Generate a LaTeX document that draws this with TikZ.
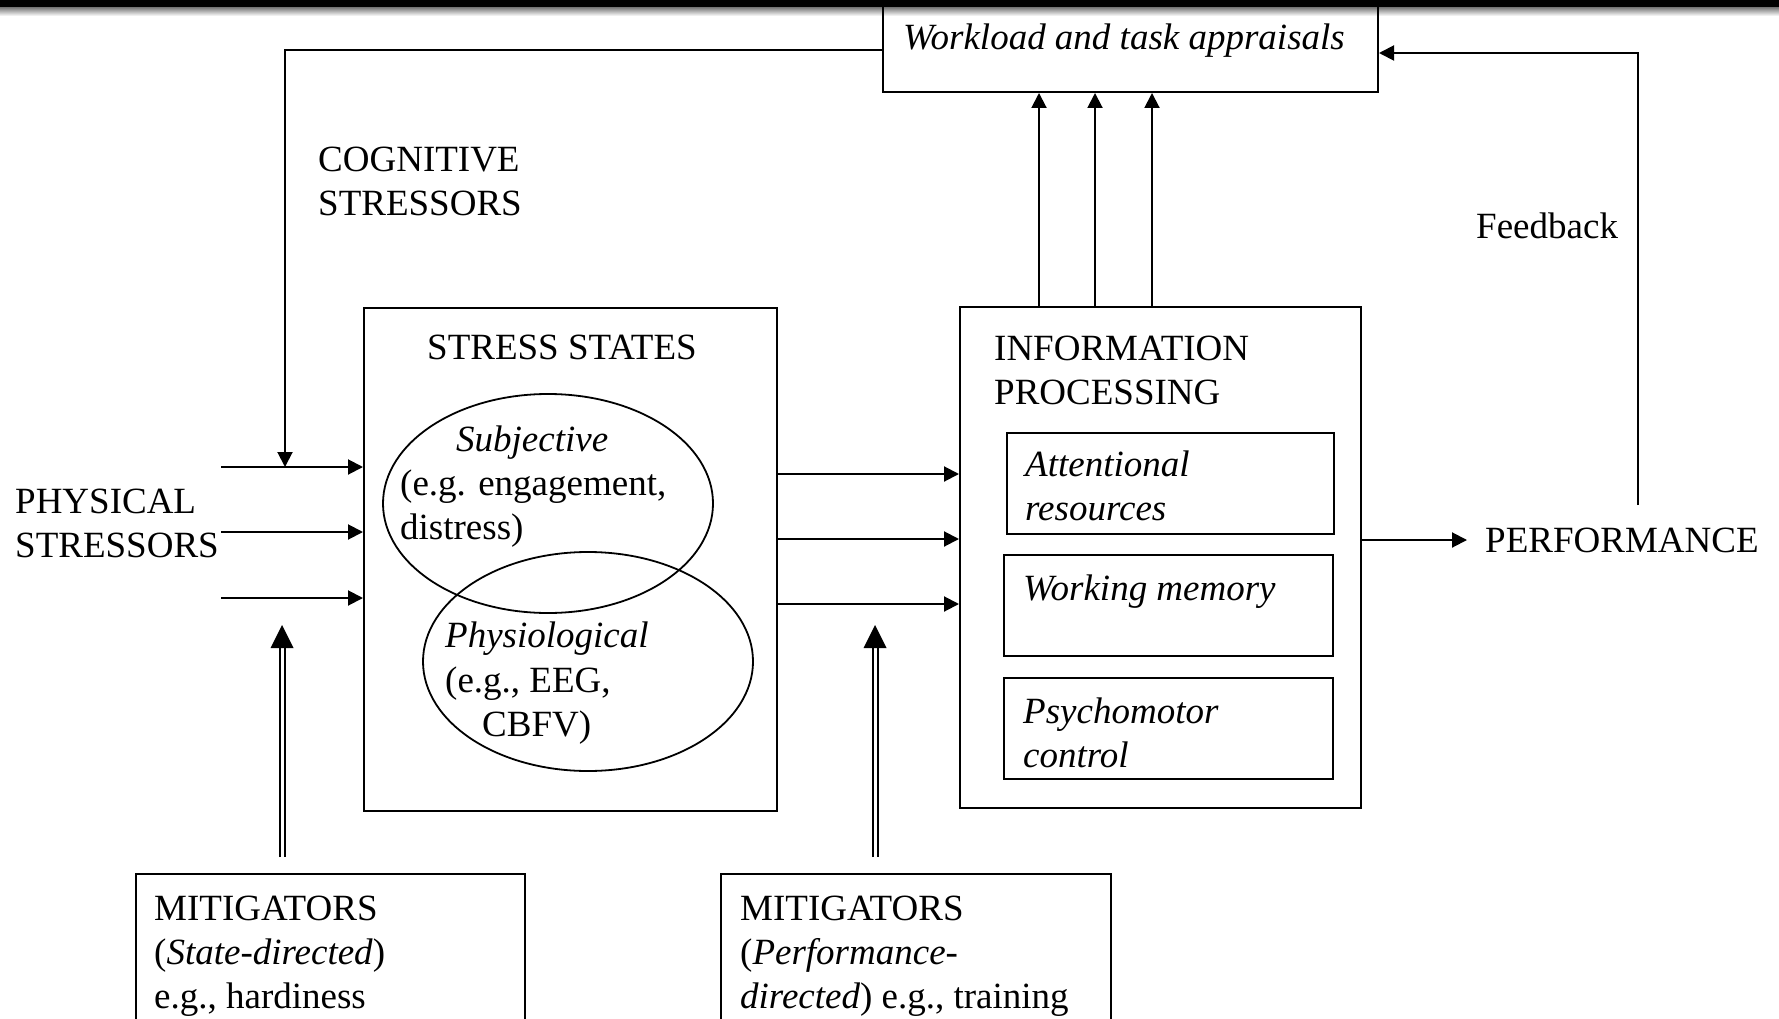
\documentclass[tikz,border=0pt]{standalone}
\usepackage{fontspec}
\setmainfont{Liberation Serif}
\usetikzlibrary{arrows.meta,calc,shapes.geometric}
\begin{document}
\begin{tikzpicture}[x=1pt,y=-1pt,
  box/.style={draw, line width=2pt, inner sep=0pt, anchor=north west},
  lbl/.style={anchor=base west, inner sep=0pt, align=left, font=\fontsize{37}{44}\selectfont},
  arr/.style={line width=2pt, -{Triangle[length=15pt,width=15pt]}},
  dbl/.style={line width=2pt, double distance=3pt},
  oval/.style={draw, ellipse, line width=1.8pt, inner sep=0pt}]
\clip (0,0) rectangle (1779,1019);
\fill[white] (0,0) rectangle (1779,1019);

% soft shadow under the header band
\shade[top color=black!55, bottom color=white] (0,7) rectangle (1779,16);

% appraisal box, its top runs under the header band
\node[box, anchor=south west, minimum width=495pt, minimum height=110pt] (wl) at (882,93) {};
\node[lbl] at (903,50) {\textit{Workload and task appraisals}};

% header band
\fill[black] (0,0) rectangle (1779,7);

% main boxes
\node[box, minimum width=413pt, minimum height=503pt] (ss) at (363,307) {};
\node[box, minimum width=401pt, minimum height=501pt] (ip) at (959,306) {};
\node[box, minimum width=327pt, minimum height=101pt] (att) at (1006,432) {};
\node[box, minimum width=329pt, minimum height=101pt] (wm) at (1003,554) {};
\node[box, minimum width=329pt, minimum height=101pt] (psy) at (1003,677) {};
\node[box, minimum width=389pt, minimum height=250pt] (mit1) at (135,873) {};
\node[box, minimum width=390pt, minimum height=250pt] (mit2) at (720,873) {};

% overlapping state ellipses
\node[oval, minimum width=330pt, minimum height=219pt] (subj) at (548,503.5) {};
\node[oval, minimum width=330pt, minimum height=219pt] (phys) at (588,661.5) {};

% labels (multi-line labels sit on the baseline of their last line)
\node[lbl] (cog) at (318,215) {COGNITIVE\\STRESSORS};
\node[lbl] (fbk) at (1476,238) {Feedback};
\node[lbl] at (427,359) {STRESS STATES};
\node[lbl] at (456,451) {\textit{Subjective}};
\node[lbl] at (400,539) {(e.g. engagement,\\distress)};
\node[lbl] at (445,647) {\textit{Physiological}};
\node[lbl] at (445,692) {(e.g., EEG,};
\node[lbl] at (482,736) {CBFV)};
\node[lbl] at (994,404) {INFORMATION\\PROCESSING};
\node[lbl] at (1025,520) {\textit{Attentional}\\\textit{resources}};
\node[lbl] at (1023,600) {\textit{Working memory}};
\node[lbl] at (1023,767) {\textit{Psychomotor}\\\textit{control}};
\node[lbl] (phy) at (15,557) {PHYSICAL\\STRESSORS};
\node[lbl] (perf) at (1485,552) {PERFORMANCE};
\node[lbl] at (154,1008) {MITIGATORS\\(\textit{State-directed})\\e.g., hardiness};
\node[lbl] at (740,1008) {MITIGATORS\\(\textit{Performance-}\\\textit{directed}) e.g., training};

% connector anchors
\coordinate (l1) at (221,467);
\coordinate (l2) at (221,532);
\coordinate (l3) at (221,598);
\coordinate (r1) at (777,474);
\coordinate (r2) at (777,539);
\coordinate (r3) at (777,604);
\coordinate (u1) at (1039,0);
\coordinate (u2) at (1095,0);
\coordinate (u3) at (1152,0);
\coordinate (fbl) at (285,50);
\coordinate (fbr) at (1638,53);
\coordinate (fbrb) at (1638,505);
\coordinate (pout) at (1361,540);
\coordinate (pin) at (1467,540);
\coordinate (m1b) at (282,857);
\coordinate (m1t) at (282,625);
\coordinate (m2b) at (875,857);
\coordinate (m2t) at (875,625);

% physical stressors into the stress states
\foreach \p in {l1,l2,l3} \draw[arr] (\p) -- (\p -| ss.west);
% stress states into information processing
\foreach \p in {r1,r2,r3} \draw[arr] (\p) -- (\p -| ip.west);
% information processing up to appraisals
\foreach \p in {u1,u2,u3} \draw[arr] (ip.north -| \p) -- (wl.south -| \p);
% appraisals feed back to the cognitive stressor input
\draw[arr] (fbl -| wl.west) -- (fbl) -- (fbl |- l1);
% performance feedback
\draw[arr] (fbrb) -- (fbr) -- (fbr -| wl.east);
% output to performance
\draw[arr] (pout) -- (pin);

% mitigator double arrows
\draw[dbl] (m1b) -- ($(m1t)+(0,22)$);
\fill (m1t) -- ++(-11.5,23) -- ++(23,0) -- cycle;
\draw[dbl] (m2b) -- ($(m2t)+(0,22)$);
\fill (m2t) -- ++(-11.5,23) -- ++(23,0) -- cycle;
\end{tikzpicture}
\end{document}
